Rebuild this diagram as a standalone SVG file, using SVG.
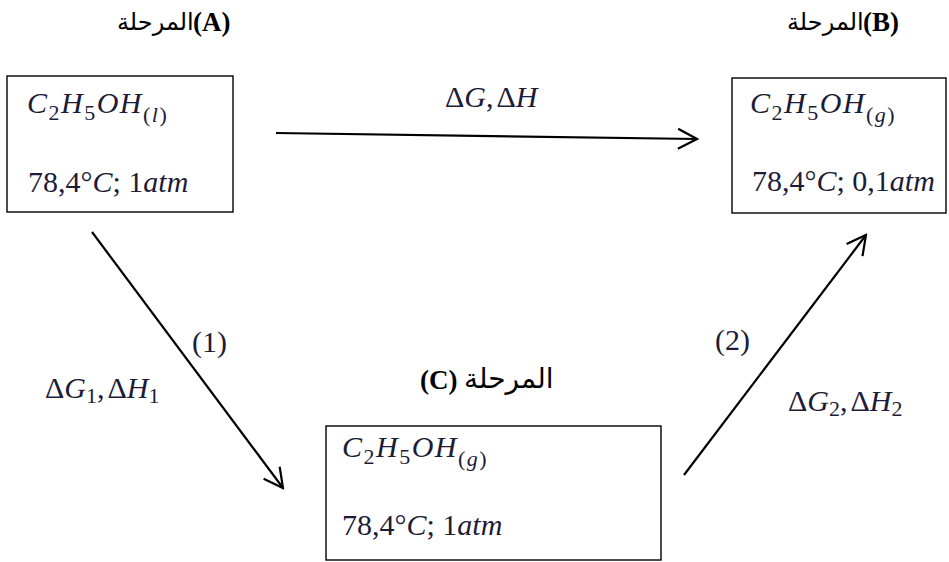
<svg xmlns="http://www.w3.org/2000/svg" width="949" height="562" viewBox="0 0 949 562">
<style>
.box{fill:#fff;stroke:#000;stroke-width:1.4}
.m{font-family:"Liberation Serif","DejaVu Serif",serif;font-size:30px;fill:#1c1c38}
.f{letter-spacing:1.5px}
.i{font-style:italic}
.s{font-size:22px}
.ar{font-family:"Liberation Serif","DejaVu Sans",serif;font-size:24px;fill:#000}
.lb{font-family:"Liberation Serif",serif;font-size:27px;font-weight:bold;fill:#000}
.c{fill:none;stroke:#000;stroke-width:2.2}
</style>
<defs>
<marker id="ah" markerUnits="userSpaceOnUse" viewBox="-22 -13 24 26" markerWidth="24" markerHeight="26" refX="0" refY="0" orient="auto">
<path d="M-19,-10 L0,0 L-19,10" fill="none" stroke="#000" stroke-width="2.2" stroke-linejoin="miter"/>
</marker>
</defs>

<g id="labels">
<text class="ar" x="117" y="30">المرحلة</text><text class="lb" x="193" y="31">(A)</text>
<text class="ar" x="787" y="30">المرحلة</text><text class="lb" x="863" y="31">(B)</text>
<text class="lb" x="420" y="389">(C)</text><text class="ar" x="464" y="388" style="font-size:28px">المرحلة</text>
</g>

<g id="nodeA">
<rect class="box" x="7" y="76" width="226" height="136"/>
<text class="m f" x="27" y="113"><tspan class="i">C</tspan><tspan class="s" dy="7">2</tspan><tspan class="i" dy="-7">H</tspan><tspan class="s" dy="7">5</tspan><tspan class="i" dy="-7">OH</tspan><tspan class="s" dy="9">(<tspan class="i">l</tspan>)</tspan></text>
<text class="m" x="28" y="192">78,4°<tspan class="i">C</tspan>; 1<tspan class="i">atm</tspan></text>
</g>

<g id="nodeB">
<rect class="box" x="732" y="78" width="214" height="135"/>
<text class="m f" x="750" y="113"><tspan class="i">C</tspan><tspan class="s" dy="7">2</tspan><tspan class="i" dy="-7">H</tspan><tspan class="s" dy="7">5</tspan><tspan class="i" dy="-7">OH</tspan><tspan class="s" dy="9">(<tspan class="i">g</tspan>)</tspan></text>
<text class="m" x="752" y="191">78,4°<tspan class="i">C</tspan>; 0,1<tspan class="i">atm</tspan></text>
</g>

<g id="nodeC">
<rect class="box" x="326" y="426" width="335" height="134"/>
<text class="m f" x="342" y="457"><tspan class="i">C</tspan><tspan class="s" dy="7">2</tspan><tspan class="i" dy="-7">H</tspan><tspan class="s" dy="7">5</tspan><tspan class="i" dy="-7">OH</tspan><tspan class="s" dy="9">(<tspan class="i">g</tspan>)</tspan></text>
<text class="m" x="342" y="535">78,4°<tspan class="i">C</tspan>; 1<tspan class="i">atm</tspan></text>
</g>

<g id="connectors">
<line class="c" x1="276" y1="133" x2="697" y2="139" marker-end="url(#ah)"/>
<line class="c" x1="92" y1="232" x2="283" y2="488" marker-end="url(#ah)"/>
<line class="c" x1="684" y1="475" x2="866" y2="235" marker-end="url(#ah)"/>
</g>

<g id="edgeLabels">
<text class="m" x="445" y="107">Δ<tspan class="i">G</tspan>,<tspan dx="3">Δ</tspan><tspan class="i">H</tspan></text>
<text class="m" x="192" y="352">(1)</text>
<text class="m" x="45" y="398">Δ<tspan class="i">G</tspan><tspan class="s" dy="5">1</tspan><tspan dy="-5">,</tspan><tspan dx="3">Δ</tspan><tspan class="i">H</tspan><tspan class="s" dy="5">1</tspan></text>
<text class="m" x="715" y="350">(2)</text>
<text class="m" x="788" y="411">Δ<tspan class="i">G</tspan><tspan class="s" dy="5">2</tspan><tspan dy="-5">,</tspan><tspan dx="3">Δ</tspan><tspan class="i">H</tspan><tspan class="s" dy="5">2</tspan></text>
</g>
</svg>
